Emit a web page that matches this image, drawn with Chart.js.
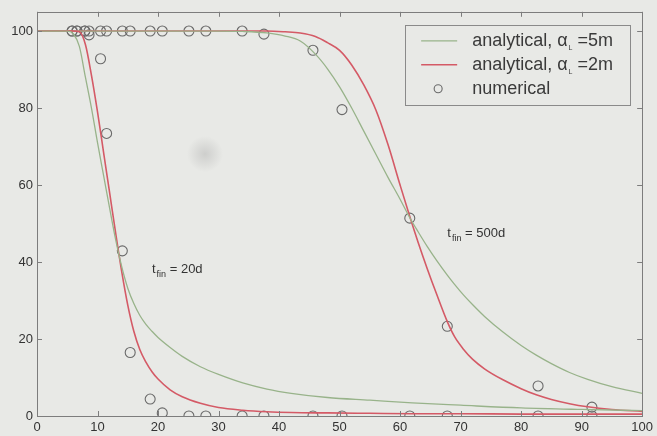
<!DOCTYPE html>
<html>
<head>
<meta charset="utf-8">
<script src="https://cdn.jsdelivr.net/npm/chart.js@4.4.0/dist/chart.umd.min.js"></script>
<style>
  html, body { margin: 0; padding: 0; background: #e8e9e6; }
  #wrap { width: 657px; height: 436px; }
</style>
</head>
<body>
<div id="wrap"><canvas id="c" width="657" height="436"></canvas></div>
<script>
// Numerical solution: mesh node positions and concentrations (%)
const nodeX  = [5.8, 6.6, 7.9, 8.6, 10.5, 11.5, 14.1, 15.4, 18.7, 20.7, 25.1, 27.9, 33.9, 37.5, 45.6, 50.4, 61.6, 67.8, 82.8, 91.7];
const num20  = [100, 100, 100, 99, 92.8, 73.4, 42.9, 16.5, 4.4, 0.8, 0, 0, 0, 0, 0, 0, 0, 0, 0, 0];
const num500 = [100, 100, 100, 100, 100, 100, 100, 100, 100, 100, 100, 100, 100, 99.2, 95, 79.6, 51.4, 23.3, 7.8, 2.3];

// Analytical profiles, t_fin = 20 d
const x20      = [0, 5, 6, 7, 8, 9, 10, 11, 12, 13, 14, 15, 16, 17, 18, 19, 20, 22, 24, 27, 30, 34, 38, 42, 48, 55, 62, 70, 80, 90, 100];
const ana20_a5 = [100, 100, 99.3, 96, 88, 80, 71, 62.5, 54, 45.8, 38.8, 33.2, 29.2, 26.1, 23.8, 22, 20.4, 17.8, 15.5, 12.8, 10.8, 8.6, 7.0, 5.9, 4.8, 4.1, 3.4, 2.8, 2.1, 1.7, 1.4];
const ana20_a2 = [100, 100, 100, 99.8, 96.5, 88.5, 79, 68.5, 58, 47.5, 37.5, 28.8, 22, 17.2, 14, 11.5, 9.6, 6.8, 5, 3.3, 2.2, 1.5, 1.1, 0.9, 0.8, 0.7, 0.6, 0.6, 0.5, 0.5, 0.5];

// Analytical profiles, t_fin = 500 d
const x500      = [0, 30, 34, 38, 41, 43.5, 46, 48, 50, 52, 54, 56, 58, 60, 61.6, 63, 64.5, 66, 67.8, 69, 70.5, 72, 74, 77, 80, 82.5, 85, 88, 91, 95, 100];
const ana500_a5 = [100, 100, 99.9, 99.5, 98.7, 97.4, 94.0, 90.2, 85.5, 80, 74, 68, 62, 56.3, 51.5, 47.8, 44, 40.5, 36.6, 34.2, 31.4, 28.9, 25.8, 21.8, 18.3, 15.8, 13.6, 11.3, 9.5, 7.6, 5.9];
const ana500_a2 = [100, 100, 100, 100, 99.8, 99.5, 98.6, 97, 95, 91.2, 86, 79.5, 70.5, 60, 51.8, 45, 38.2, 31.8, 24.5, 20.6, 17.3, 14.7, 12.2, 9.4, 7.1, 5.5, 4.3, 3.2, 2.4, 1.7, 1.2];

// Axis ticks
const xTicks = [0, 10, 20, 30, 40, 50, 60, 70, 80, 90, 100];
const yTicks = [0, 20, 40, 60, 80, 100];

// Legend entries and curve annotations
const legendItems = [
  { kind: 'line', color: '#98b38a', pre: 'analytical, \u03b1', sub: 'L', post: ' =5m' },
  { kind: 'line', color: '#d45a66', pre: 'analytical, \u03b1', sub: 'L', post: ' =2m' },
  { kind: 'marker', color: '#6a6a6a', pre: 'numerical', sub: '', post: '' }
];
const notes = [
  { x: 19, y: 37.5, main: 't', sub: 'fin', rest: ' = 20d' },
  { x: 67.8, y: 47, main: 't', sub: 'fin', rest: ' = 500d' }
];

const GREEN = '#98b38a', RED = '#d45a66', MARK = '#6a6a6a', INK = '#333333', BG = '#e8e9e6';
const FONT = 'Liberation Sans, Arial, Helvetica, sans-serif';

const pts = (xs, ys) => xs.map((x, i) => ({ x: x, y: ys[i] }));

function curve(label, xs, ys, color, w) {
  return { label, data: pts(xs, ys), showLine: true, borderColor: color, borderWidth: w,
           pointRadius: 0, pointHoverRadius: 0, cubicInterpolationMode: 'monotone', fill: false };
}
function markers(label, xs, ys) {
  return { label, data: pts(xs, ys), showLine: false, pointStyle: 'circle', pointRadius: 5,
           pointBorderWidth: 1.1, pointBorderColor: MARK, pointBackgroundColor: 'rgba(0,0,0,0)' };
}

// Page backdrop with a soft grey spot
const backdrop = {
  id: 'backdrop',
  beforeDraw(chart) {
    const ctx = chart.ctx;
    ctx.save();
    ctx.fillStyle = BG;
    ctx.fillRect(0, 0, chart.width, chart.height);
    const g = ctx.createRadialGradient(205, 154, 0, 205, 154, 18);
    g.addColorStop(0, 'rgba(150,150,150,0.32)');
    g.addColorStop(1, 'rgba(150,150,150,0)');
    ctx.fillStyle = g;
    ctx.fillRect(180, 130, 50, 50);
    ctx.restore();
  }
};

// Box around the axes with inward tick marks on all four sides
const frame = {
  id: 'frame',
  afterDatasetsDraw(chart) {
    const { ctx, chartArea: a, scales } = chart;
    ctx.save();
    ctx.strokeStyle = '#7d7d7d';
    ctx.lineWidth = 1;
    ctx.strokeRect(Math.round(a.left) + 0.5, Math.round(a.top) + 0.5,
                   Math.round(a.right - a.left), Math.round(a.bottom - a.top));
    ctx.beginPath();
    const L = 5;
    xTicks.forEach(v => {
      const px = Math.round(scales.x.getPixelForValue(v)) + 0.5;
      ctx.moveTo(px, a.bottom); ctx.lineTo(px, a.bottom - L);
      ctx.moveTo(px, a.top); ctx.lineTo(px, a.top + L);
    });
    yTicks.forEach(v => {
      const py = Math.round(scales.y.getPixelForValue(v)) + 0.5;
      ctx.moveTo(a.left, py); ctx.lineTo(a.left + L, py);
      ctx.moveTo(a.right, py); ctx.lineTo(a.right - L, py);
    });
    ctx.stroke();
    ctx.restore();
  }
};

// Text with a lowered subscript part
function subText(ctx, x, y, pre, sub, post, size, subSize, drop) {
  ctx.font = size + 'px ' + FONT;
  ctx.fillText(pre, x, y);
  x += ctx.measureText(pre).width;
  if (sub) {
    ctx.font = subSize + 'px ' + FONT;
    ctx.fillText(sub, x + 1, y + drop);
    x += ctx.measureText(sub).width + 1;
  }
  ctx.font = size + 'px ' + FONT;
  ctx.fillText(post, x, y);
}

// Boxed legend in the upper right and the two time annotations
const labels = {
  id: 'labels',
  afterDraw(chart) {
    const { ctx, chartArea: a, scales } = chart;
    ctx.save();
    ctx.textBaseline = 'middle';
    notes.forEach(n => {
      const px = scales.x.getPixelForValue(n.x);
      const py = scales.y.getPixelForValue(n.y);
      ctx.fillStyle = INK;
      subText(ctx, px, py - 2, n.main, n.sub, n.rest, 13, 9, 5);
    });

    const bx = a.right - 237, by = a.top + 13, bw = 225, bh = 80;
    ctx.fillStyle = BG;
    ctx.fillRect(bx, by, bw, bh);
    ctx.strokeStyle = '#8a8a8a';
    ctx.lineWidth = 1;
    ctx.strokeRect(Math.round(bx) + 0.5, Math.round(by) + 0.5, bw, bh);
    legendItems.forEach((it, i) => {
      const cy = by + 16 + i * 24;
      if (it.kind === 'line') {
        ctx.strokeStyle = it.color;
        ctx.lineWidth = i === 1 ? 1.6 : 1.3;
        ctx.beginPath();
        ctx.moveTo(bx + 16, cy); ctx.lineTo(bx + 52, cy);
        ctx.stroke();
      } else {
        ctx.strokeStyle = it.color;
        ctx.lineWidth = 1.1;
        ctx.beginPath();
        ctx.arc(bx + 33, cy, 4, 0, Math.PI * 2);
        ctx.stroke();
      }
      ctx.fillStyle = '#3a3a3a';
      subText(ctx, bx + 67, cy, it.pre, it.sub, it.post, 18, 7, 7);
    });
    ctx.restore();
  }
};

new Chart(document.getElementById('c'), {
  type: 'scatter',
  data: {
    datasets: [
      curve('analytical, \u03b1L=5m, 20d', x20, ana20_a5, GREEN, 1.3),
      curve('analytical, \u03b1L=2m, 20d', x20, ana20_a2, RED, 1.6),
      curve('analytical, \u03b1L=5m, 500d', x500, ana500_a5, GREEN, 1.3),
      curve('analytical, \u03b1L=2m, 500d', x500, ana500_a2, RED, 1.6),
      markers('numerical, 20d', nodeX, num20),
      markers('numerical, 500d', nodeX, num500)
    ]
  },
  options: {
    responsive: false,
    animation: false,
    devicePixelRatio: 1,
    layout: { padding: { top: 10, right: 12, left: 0, bottom: 0 } },
    plugins: { legend: { display: false }, tooltip: { enabled: false } },
    scales: {
      x: {
        type: 'linear', min: 0, max: 100,
        grid: { display: false, drawTicks: false },
        border: { display: false },
        ticks: { stepSize: 10, padding: 4, maxRotation: 0, color: INK, font: { family: FONT, size: 13 } },
        afterFit(s) { s.height = 20; }
      },
      y: {
        type: 'linear', min: 0, max: 105,
        grid: { display: false, drawTicks: false },
        border: { display: false },
        ticks: { stepSize: 20, includeBounds: false, padding: 4, color: INK, font: { family: FONT, size: 13 } },
        afterFit(s) { s.width = 37; }
      }
    }
  },
  plugins: [backdrop, frame, labels]
});
</script>
</body>
</html>
